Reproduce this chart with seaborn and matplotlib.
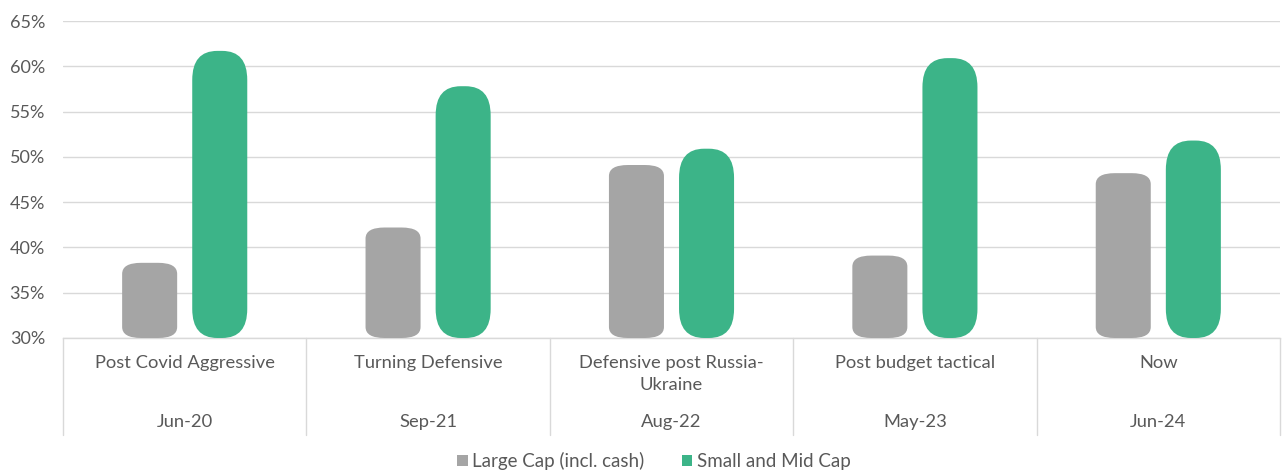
import matplotlib
matplotlib.use("Agg")
import matplotlib.pyplot as plt
from matplotlib.patches import FancyBboxPatch, Patch
import numpy as np
import pandas as pd
import seaborn as sns

# ---- data ----
phases = ["Post Covid Aggressive", "Turning Defensive", "Defensive post Russia-\nUkraine",
          "Post budget tactical", "Now"]
dates = ["Jun-20", "Sep-21", "Aug-22", "May-23", "Jun-24"]
large_cap = [38.3, 42.2, 49.1, 39.1, 48.2]
small_mid_cap = [61.7, 57.8, 50.9, 60.9, 51.8]
series_names = ["Large Cap (incl. cash)", "Small and Mid Cap"]
yticks = [30, 35, 40, 45, 50, 55, 60, 65]

GRAY = "#A5A5A5"
GREEN = "#3CB488"
TEXT = "#595959"
LINE = "#D9D9D9"

df = pd.DataFrame({
    "date": dates * 2,
    "value": large_cap + small_mid_cap,
    "series": [series_names[0]] * len(dates) + [series_names[1]] * len(dates),
})

sns.set_theme(style="white")
plt.rcParams["font.family"] = ["Lato", "DejaVu Sans"]

fig = plt.figure(figsize=(12.82, 4.74), dpi=100)
ax = fig.add_axes([63 / 1282, 1 - 338 / 474, (1280 - 63) / 1282, (338 - 21) / 474])

sns.barplot(data=df, x="date", y="value", hue="series", order=dates,
            hue_order=series_names, palette=[GRAY, GREEN], saturation=1,
            width=0.576, gap=0.215, legend=False, ax=ax)

ax.set_ylim(30, 65)
ax.set_xlim(-0.5, len(dates) - 0.5)

# px per data unit, used to keep the corner rounding in screen pixels
px_x = (1280 - 63) / len(dates)
px_y = (338 - 21) / 35.0

base = 30
green_rgb = matplotlib.colors.to_rgb(GREEN)
bars = list(ax.patches)
for p in bars:
    x, w, h = p.get_x(), p.get_width(), p.get_height()
    col = p.get_facecolor()
    p.remove()
    is_green = np.allclose(col[:3], green_rgb, atol=0.03)
    if is_green:
        rx, ry = 25, 29
    else:
        rx, ry = 19, 11
    rs = rx / px_x
    aspect = (ry / px_y) / rs
    fb = FancyBboxPatch((x, base), w, h - base,
                        boxstyle=f"round,pad=0,rounding_size={rs}",
                        mutation_aspect=aspect, facecolor=col, edgecolor="none",
                        zorder=3)
    ax.add_patch(fb)

# grid and axes styling
ax.set_yticks(yticks)
ax.set_yticklabels([f"{t}%" for t in yticks], color=TEXT, fontsize=13)
ax.yaxis.grid(True, color=LINE, linewidth=1.0, zorder=0)
ax.set_axisbelow(True)
ax.tick_params(axis="y", length=0, pad=13)
ax.set_xticks([])
ax.set_xlabel("")
ax.set_ylabel("")
for s in ["top", "right", "left"]:
    ax.spines[s].set_visible(False)
ax.spines["bottom"].set_color(LINE)
ax.spines["bottom"].set_linewidth(1.0)

# two-level category axis
trans = matplotlib.transforms.blended_transform_factory(ax.transData, ax.transAxes)
ax_h = 338 - 21
sep_bottom = -(435 - 338) / ax_h
for xs in np.arange(-0.5, len(dates), 1.0):
    ax.plot([xs, xs], [0, sep_bottom], transform=trans, color=LINE,
            linewidth=1.0, clip_on=False)
for i, (ph, d) in enumerate(zip(phases, dates)):
    ax.text(i, -(355 - 338) / ax_h, ph, transform=trans, ha="center", va="top",
            color=TEXT, fontsize=13.2, linespacing=1.45)
    ax.text(i, -(422 - 338) / ax_h, d, transform=trans, ha="center", va="center",
            color=TEXT, fontsize=13.2)

handles = [Patch(facecolor=GRAY, edgecolor="none"), Patch(facecolor=GREEN, edgecolor="none")]
fig.legend(handles, series_names, loc="center", bbox_to_anchor=(654 / 1282, 1 - 461 / 474),
           ncol=2, frameon=False, fontsize=13.5, handlelength=0.55, handleheight=0.55,
           handletextpad=0.25, columnspacing=2.0, labelcolor=TEXT)

fig.savefig("out.png", dpi=100, facecolor="white")
